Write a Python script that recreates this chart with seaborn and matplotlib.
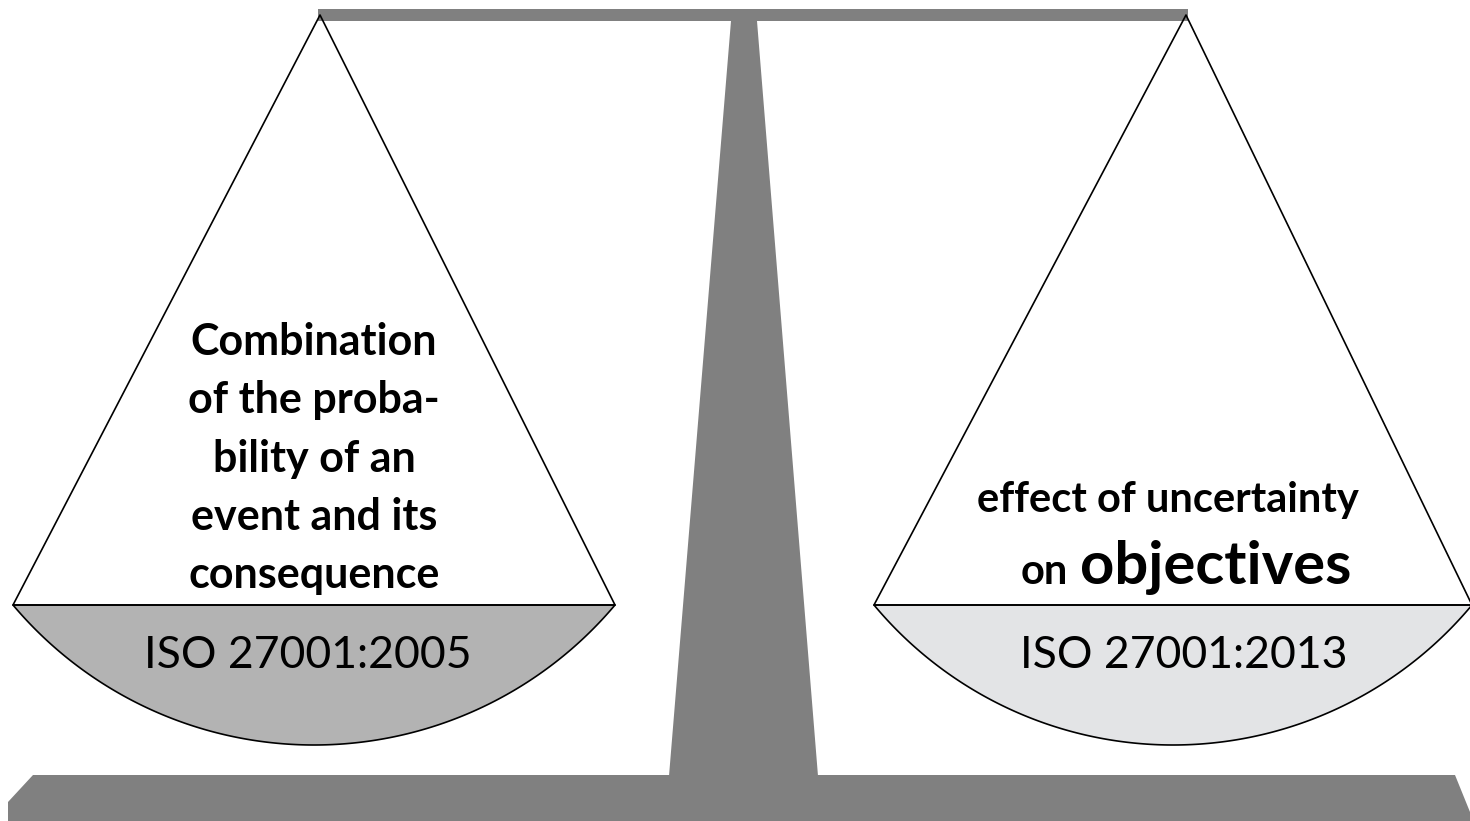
import matplotlib
matplotlib.use('Agg')
import matplotlib.pyplot as plt
import numpy as np
import seaborn as sns
from matplotlib.patches import Polygon

# тексты на чашах весов
left_lines = ['Combination', 'of the proba-', 'bility of an', 'event and its', 'consequence']
right_line = 'effect of uncertainty'
right_small, right_big = 'on', 'objectives'
standards = ['ISO 27001:2005', 'ISO 27001:2013']
pan_colors = ['#b3b3b3', '#e3e4e6']

sns.set_theme(style='white')
plt.rcParams['font.family'] = ['Lato', 'DejaVu Sans']

fig = plt.figure(figsize=(14.7, 8.21), dpi=100)
ax = fig.add_axes([0, 0, 1, 1])
ax.set_xlim(0, 1470)
ax.set_ylim(821, 0)
ax.axis('off')

gray = '#808080'
# коромысло, стойка и основание
ax.add_patch(Polygon([(318, 9), (1188, 9), (1188, 21), (318, 21)], closed=True, color=gray, lw=0))
ax.add_patch(Polygon([(731, 21), (757, 21), (818, 776), (669, 776)], closed=True, color=gray, lw=0))
ax.add_patch(Polygon([(8, 821), (8, 802), (33, 775), (1455, 775), (1470, 812), (1470, 821)],
                     closed=True, color=gray, lw=0))


def pan(ax, apex, x0, x1, ytop, ybot, color):
    # чаша: сегмент круга под хордой
    c = (x1 - x0) / 2
    s = ybot - ytop
    r = (c ** 2 + s ** 2) / (2 * s)
    cx, cy = (x0 + x1) / 2, ybot - r
    a0 = np.arccos(c / r)
    t = np.linspace(a0, np.pi - a0, 200)
    pts = np.column_stack([cx + r * np.cos(t), cy + r * np.sin(t)])
    ax.add_patch(Polygon(pts, closed=True, facecolor=color, edgecolor='black', lw=1.2))
    ax.plot([x0, apex[0], x1], [ytop, apex[1], ytop], color='black', lw=1.2)
    ax.plot([x0, x1], [ytop, ytop], color='black', lw=1.2)
    return cx


cl = pan(ax, (320, 15), 13, 615, 605, 745, pan_colors[0])
cr = pan(ax, (1186, 15), 874, 1472, 605, 745, pan_colors[1])

for i, line in enumerate(left_lines):
    ax.text(314, 342 + i * 58.3, line, ha='center', va='center', fontsize=31,
            fontweight='bold', color='black')

ax.text(1168, 500, right_line, ha='center', va='center', fontsize=30, fontweight='bold', color='black')
ax.text(1068, 584, right_small, ha='right', va='baseline', fontsize=30, fontweight='bold', color='black')
ax.text(1080, 584, right_big, ha='left', va='baseline', fontsize=43, fontweight='bold', color='black')

ax.text(308, 655, standards[0], ha='center', va='center', fontsize=32, color='black')
ax.text(1184, 655, standards[1], ha='center', va='center', fontsize=32, color='black')

fig.savefig('out.png', dpi=100)
